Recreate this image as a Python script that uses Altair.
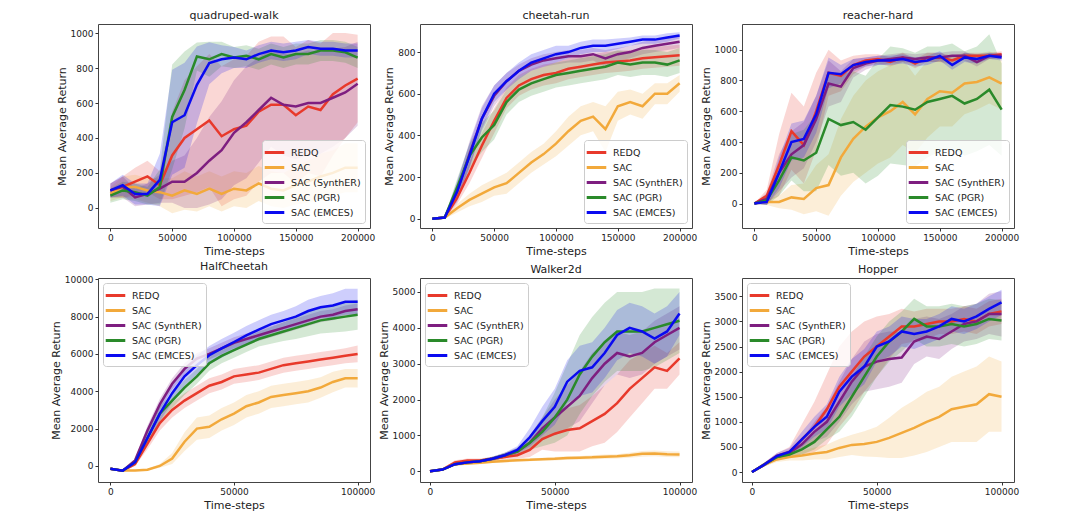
import altair as alt
import pandas as pd

METHODS = ["REDQ", "SAC", "SAC (SynthER)", "SAC (PGR)", "SAC (EMCES)"]
COLORS = ["#e8392b", "#f2a93b", "#7e1e80", "#2a8a2a", "#0a0af0"]

X_TOP = list(range(0, 200001, 10000))
X_BOT = list(range(0, 100001, 5000))

# ---------- quadruped-walk ----------
qw_redq = [100, 120, 150, 180, 130, 300, 400, 450, 500, 410, 450, 470, 550, 590, 590, 530, 580, 560, 650, 700, 740]
qw_redq_sd = [40, 60, 80, 90, 80, 250, 330, 360, 380, 400, 400, 400, 400, 390, 390, 390, 380, 380, 350, 300, 250]
qw_sac = [80, 120, 120, 100, 90, 70, 100, 80, 110, 80, 110, 100, 140, 110, 100, 130, 150, 180, 200, 230, 230]
qw_sac_sd = [40, 60, 70, 70, 80, 100, 110, 100, 100, 100, 100, 100, 100, 100, 100, 110, 120, 130, 130, 140, 140]
qw_synth = [100, 120, 60, 80, 110, 150, 150, 200, 270, 330, 430, 490, 560, 630, 590, 580, 600, 600, 630, 660, 710]
qw_synth_sd = [40, 60, 50, 60, 80, 120, 150, 200, 250, 280, 300, 320, 300, 280, 290, 300, 300, 290, 280, 260, 240]
qw_pgr = [70, 100, 90, 70, 120, 520, 675, 866, 850, 880, 860, 870, 850, 880, 860, 880, 880, 900, 900, 890, 860]
qw_pgr_sd = [40, 50, 50, 50, 100, 300, 220, 80, 100, 70, 60, 60, 60, 60, 60, 60, 60, 60, 60, 60, 60]
qw_emces = [100, 130, 80, 80, 160, 490, 530, 704, 828, 850, 860, 850, 880, 900, 890, 900, 920, 910, 910, 900, 900]
qw_emces_sd = [40, 60, 60, 60, 150, 300, 300, 220, 120, 80, 60, 50, 50, 50, 50, 50, 40, 40, 40, 40, 40]

# ---------- cheetah-run ----------
cr_redq = [0, 5, 100, 220, 350, 470, 580, 640, 670, 690, 700, 720, 730, 740, 750, 755, 760, 770, 775, 780, 785]
cr_redq_sd = [0, 5, 30, 50, 60, 60, 50, 50, 50, 50, 50, 50, 50, 50, 50, 50, 50, 50, 50, 50, 50]
cr_sac = [0, 5, 50, 90, 120, 150, 170, 220, 270, 310, 360, 420, 470, 490, 430, 540, 560, 540, 600, 600, 650]
cr_sac_sd = [0, 5, 20, 30, 40, 40, 50, 50, 50, 50, 60, 70, 70, 70, 110, 70, 60, 60, 50, 50, 40]
cr_synth = [0, 5, 130, 310, 480, 590, 660, 710, 740, 760, 770, 780, 780, 790, 770, 790, 800, 820, 830, 840, 850]
cr_synth_sd = [0, 5, 40, 60, 60, 50, 40, 30, 30, 30, 30, 30, 30, 30, 40, 30, 30, 30, 30, 30, 30]
cr_pgr = [0, 5, 150, 300, 390, 450, 560, 620, 650, 670, 690, 700, 710, 720, 730, 750, 740, 750, 750, 740, 760]
cr_pgr_sd = [0, 5, 40, 60, 70, 70, 60, 60, 60, 60, 60, 60, 60, 60, 60, 60, 60, 60, 60, 60, 60]
cr_emces = [0, 5, 130, 300, 480, 600, 660, 710, 750, 770, 790, 800, 820, 830, 830, 840, 850, 860, 860, 870, 880]
cr_emces_sd = [0, 5, 50, 60, 50, 40, 40, 40, 40, 40, 40, 30, 30, 30, 30, 25, 20, 20, 20, 20, 15]

# ---------- reacher-hard ----------
rh_redq = [0, 50, 250, 470, 380, 600, 850, 830, 900, 930, 940, 920, 950, 910, 950, 950, 930, 960, 960, 960, 970]
rh_redq_sd = [0, 40, 200, 250, 250, 250, 150, 100, 60, 40, 30, 30, 30, 30, 30, 30, 30, 20, 20, 20, 20]
rh_sac = [0, 10, 10, 40, 30, 100, 120, 300, 420, 500, 560, 600, 660, 580, 680, 730, 720, 780, 790, 820, 780]
rh_sac_sd = [0, 20, 40, 80, 100, 150, 200, 250, 280, 300, 300, 300, 280, 250, 250, 230, 220, 200, 180, 170, 170]
rh_synth = [0, 30, 200, 320, 380, 550, 780, 760, 880, 910, 930, 940, 950, 940, 950, 950, 960, 960, 920, 960, 960]
rh_synth_sd = [0, 40, 120, 150, 150, 150, 150, 100, 60, 40, 30, 30, 30, 30, 30, 30, 30, 30, 30, 20, 20]
rh_pgr = [0, 20, 150, 300, 280, 330, 550, 510, 530, 480, 560, 640, 630, 610, 660, 680, 700, 650, 680, 740, 610]
rh_pgr_sd = [0, 30, 100, 150, 200, 250, 300, 330, 330, 350, 380, 380, 380, 370, 360, 340, 340, 340, 340, 360, 300]
rh_emces = [0, 10, 200, 400, 420, 580, 850, 840, 900, 920, 930, 930, 940, 920, 930, 960, 900, 950, 940, 960, 950]
rh_emces_sd = [0, 20, 100, 120, 120, 120, 100, 60, 40, 30, 30, 30, 30, 30, 30, 30, 30, 30, 30, 20, 20]

# ---------- HalfCheetah ----------
hc_redq = [-150, -250, 100, 1200, 2300, 3000, 3500, 3900, 4300, 4500, 4800, 4900, 5000, 5200, 5400, 5500, 5600, 5700, 5800, 5900, 6000]
hc_redq_sd = [30, 30, 100, 300, 400, 400, 400, 400, 400, 400, 400, 400, 400, 400, 400, 400, 400, 400, 400, 400, 450]
hc_sac = [-150, -250, -250, -200, 0, 400, 1300, 2000, 2100, 2500, 2800, 3200, 3400, 3700, 3800, 3900, 4000, 4200, 4500, 4700, 4700]
hc_sac_sd = [30, 30, 30, 50, 100, 300, 500, 600, 600, 600, 600, 600, 600, 600, 600, 600, 600, 550, 550, 500, 500]
hc_synth = [-150, -250, 300, 1900, 3300, 4400, 5200, 5750, 6000, 6300, 6600, 6800, 7000, 7200, 7400, 7600, 7800, 8000, 8100, 8300, 8400]
hc_synth_sd = [30, 30, 100, 250, 300, 300, 300, 300, 300, 300, 300, 300, 300, 300, 300, 300, 300, 300, 300, 300, 300]
hc_pgr = [-150, -250, 200, 1500, 2800, 3500, 4200, 4800, 5500, 5900, 6200, 6500, 6800, 7000, 7200, 7400, 7600, 7800, 7900, 8000, 8100]
hc_pgr_sd = [30, 30, 100, 300, 400, 400, 400, 400, 400, 400, 400, 400, 400, 450, 500, 600, 650, 700, 750, 800, 800]
hc_emces = [-150, -250, 200, 1500, 2800, 3900, 4800, 5400, 5930, 6300, 6640, 7000, 7300, 7600, 7800, 8000, 8300, 8500, 8600, 8800, 8800]
hc_emces_sd = [30, 30, 100, 300, 400, 500, 500, 500, 500, 500, 500, 500, 500, 500, 500, 550, 600, 600, 650, 700, 700]

# ---------- Walker2d ----------
wk_redq = [0, 50, 250, 300, 300, 350, 400, 450, 600, 900, 1050, 1150, 1200, 1400, 1600, 1900, 2300, 2600, 2900, 2800, 3150]
wk_redq_sd = [20, 30, 60, 60, 60, 60, 80, 100, 200, 300, 500, 600, 650, 700, 800, 800, 800, 700, 600, 500, 450]
wk_sac = [0, 50, 200, 220, 240, 270, 290, 310, 320, 340, 350, 370, 380, 390, 410, 420, 450, 490, 500, 480, 470]
wk_sac_sd = [20, 30, 40, 40, 40, 40, 40, 40, 40, 40, 50, 50, 50, 60, 60, 60, 70, 80, 80, 80, 80]
wk_synth = [0, 50, 200, 250, 280, 350, 450, 550, 800, 1200, 1500, 1800, 2100, 2600, 3000, 3300, 3200, 3300, 3600, 3800, 4000]
wk_synth_sd = [20, 30, 40, 50, 50, 60, 70, 100, 200, 300, 500, 600, 700, 700, 600, 600, 600, 600, 600, 600, 600]
wk_pgr = [0, 50, 200, 250, 280, 350, 450, 550, 800, 1100, 1500, 2000, 2700, 3200, 3600, 3900, 3900, 3900, 4000, 4100, 4200]
wk_pgr_sd = [20, 30, 40, 50, 50, 60, 70, 100, 200, 400, 700, 1000, 1100, 1100, 1100, 1100, 1100, 1100, 1100, 1000, 900]
wk_emces = [0, 50, 200, 250, 280, 350, 450, 600, 950, 1400, 1800, 2500, 2800, 2900, 3300, 3800, 4000, 3900, 3700, 3900, 4400]
wk_emces_sd = [20, 30, 40, 50, 50, 60, 70, 100, 250, 400, 500, 600, 700, 700, 700, 700, 700, 700, 700, 700, 600]

# ---------- Hopper ----------
hp_redq = [0, 150, 320, 400, 650, 900, 1250, 1700, 2000, 2300, 2500, 2700, 2900, 2900, 2950, 3000, 3000, 3050, 3000, 3150, 3200]
hp_redq_sd = [20, 40, 60, 100, 300, 500, 700, 800, 800, 700, 600, 450, 350, 300, 300, 250, 250, 250, 250, 250, 250]
hp_sac = [0, 150, 250, 300, 330, 370, 400, 480, 540, 560, 600, 680, 780, 880, 1000, 1100, 1250, 1300, 1350, 1550, 1500]
hp_sac_sd = [20, 40, 50, 70, 100, 120, 150, 180, 200, 250, 300, 400, 500, 550, 600, 600, 650, 700, 750, 750, 700]
hp_synth = [0, 150, 300, 380, 550, 800, 1000, 1400, 1800, 2100, 2200, 2250, 2280, 2600, 2700, 2650, 2800, 2950, 3000, 3150, 3150]
hp_synth_sd = [20, 40, 50, 60, 100, 200, 300, 400, 450, 500, 550, 550, 500, 450, 400, 400, 350, 350, 350, 400, 450]
hp_pgr = [0, 150, 300, 350, 450, 600, 850, 1100, 1500, 1900, 2300, 2600, 2800, 3050, 2900, 2900, 2950, 2900, 2950, 3050, 3020]
hp_pgr_sd = [20, 40, 50, 60, 100, 150, 200, 300, 400, 400, 400, 400, 400, 400, 400, 400, 400, 400, 400, 400, 400]
hp_emces = [0, 150, 320, 400, 650, 900, 1100, 1600, 1900, 2100, 2500, 2600, 2800, 2750, 2800, 2900, 3050, 3000, 3100, 3250, 3380]
hp_emces_sd = [20, 40, 60, 80, 150, 200, 250, 300, 350, 350, 300, 300, 300, 300, 250, 250, 250, 250, 250, 250, 250]

PANELS = [
    ("quadruped-walk", X_TOP, [(qw_redq, qw_redq_sd), (qw_sac, qw_sac_sd), (qw_synth, qw_synth_sd), (qw_pgr, qw_pgr_sd), (qw_emces, qw_emces_sd)],
     [-10000, 210000], [-115, 1052], [0, 200, 400, 600, 800, 1000], [0, 50000, 100000, 150000, 200000], "bottom-right"),
    ("cheetah-run", X_TOP, [(cr_redq, cr_redq_sd), (cr_sac, cr_sac_sd), (cr_synth, cr_synth_sd), (cr_pgr, cr_pgr_sd), (cr_emces, cr_emces_sd)],
     [-10000, 210000], [-45, 935], [0, 200, 400, 600, 800], [0, 50000, 100000, 150000, 200000], "bottom-right"),
    ("reacher-hard", X_TOP, [(rh_redq, rh_redq_sd), (rh_sac, rh_sac_sd), (rh_synth, rh_synth_sd), (rh_pgr, rh_pgr_sd), (rh_emces, rh_emces_sd)],
     [-10000, 210000], [-159, 1167], [0, 200, 400, 600, 800, 1000], [0, 50000, 100000, 150000, 200000], "bottom-right"),
    ("HalfCheetah", X_BOT, [(hc_redq, hc_redq_sd), (hc_sac, hc_sac_sd), (hc_synth, hc_synth_sd), (hc_pgr, hc_pgr_sd), (hc_emces, hc_emces_sd)],
     [-5000, 105000], [-860, 10070], [0, 2000, 4000, 6000, 8000, 10000], [0, 50000, 100000], "top-left"),
    ("Walker2d", X_BOT, [(wk_redq, wk_redq_sd), (wk_sac, wk_sac_sd), (wk_synth, wk_synth_sd), (wk_pgr, wk_pgr_sd), (wk_emces, wk_emces_sd)],
     [-4000, 105000], [-297, 5390], [0, 1000, 2000, 3000, 4000, 5000], [0, 50000, 100000], "top-left"),
    ("Hopper", X_BOT, [(hp_redq, hp_redq_sd), (hp_sac, hp_sac_sd), (hp_synth, hp_synth_sd), (hp_pgr, hp_pgr_sd), (hp_emces, hp_emces_sd)],
     [-4000, 105000], [-199, 3865], [0, 500, 1000, 1500, 2000, 2500, 3000, 3500], [0, 50000, 100000], "top-left"),
]


def make_panel(title, xs, series, xdom, ydom, yvals, xvals, lorient):
    rows = []
    for m, (mean, sd) in zip(METHODS, series):
        for x, v, s in zip(xs, mean, sd):
            rows.append({"step": x, "method": m, "grp": m, "mean": v, "lo": v - s, "hi": v + s})
    df = pd.DataFrame(rows)
    xenc = alt.X("step:Q", scale=alt.Scale(domain=xdom, nice=False, zero=False),
                 axis=alt.Axis(values=xvals, format="d", title="Time-steps"))
    yscale = alt.Scale(domain=ydom, nice=False, zero=False)
    yaxis = alt.Axis(values=yvals, format="d", title="Mean Average Return")
    # band colour scale uses the same mapping, listed in reverse order so that
    # its (disabled) legend is not merged with the line legend
    band = alt.Chart(df).mark_area(opacity=0.2, clip=True).encode(
        x=xenc,
        y=alt.Y("lo:Q", scale=yscale, axis=yaxis),
        y2="hi:Q",
        fill=alt.Fill("grp:N", scale=alt.Scale(domain=METHODS[::-1], range=COLORS[::-1]), legend=None),
    )
    line = alt.Chart(df).mark_line(strokeWidth=2.5, clip=True).encode(
        x=xenc,
        y=alt.Y("mean:Q", scale=yscale, axis=yaxis),
        color=alt.Color("method:N", scale=alt.Scale(domain=METHODS, range=COLORS),
                        legend=alt.Legend(orient=lorient, offset=5, title="")),
    )
    return alt.layer(band, line).properties(width=272, height=204, title=title)


charts = [make_panel(*p) for p in PANELS]

chart = alt.concat(*charts, columns=3, spacing={"row": 50, "column": 50}, bounds="flush").resolve_scale(
    color="independent", fill="independent", x="independent", y="independent"
).resolve_legend(color="independent", fill="independent").properties(
    padding={"left": 41, "top": 1, "right": 5, "bottom": 2}
).configure_view(
    stroke="#444444", strokeWidth=1
).configure_axis(
    domain=False, grid=False, tickSize=3, tickColor="#333333",
    labelFont="DejaVu Sans", labelFontSize=9, labelColor="#222222", labelPadding=2,
    titleFont="DejaVu Sans", titleFontSize=11, titleFontWeight="normal", titleColor="#222222", titlePadding=3,
).configure_title(
    font="DejaVu Sans", fontSize=11, fontWeight="normal", color="#222222", offset=3
).configure_legend(
    labelFont="DejaVu Sans", labelFontSize=9.5, labelColor="#222222",
    symbolType="M-1.5,0L1.5,0", symbolStrokeWidth=3, symbolSize=170, rowPadding=0,
    fillColor="rgba(255,255,255,0.8)", strokeColor="#cccccc", padding=4, cornerRadius=3,
    labelOffset=8,
)

chart.save("out.html", embed_options={"renderer": "svg", "actions": False})
